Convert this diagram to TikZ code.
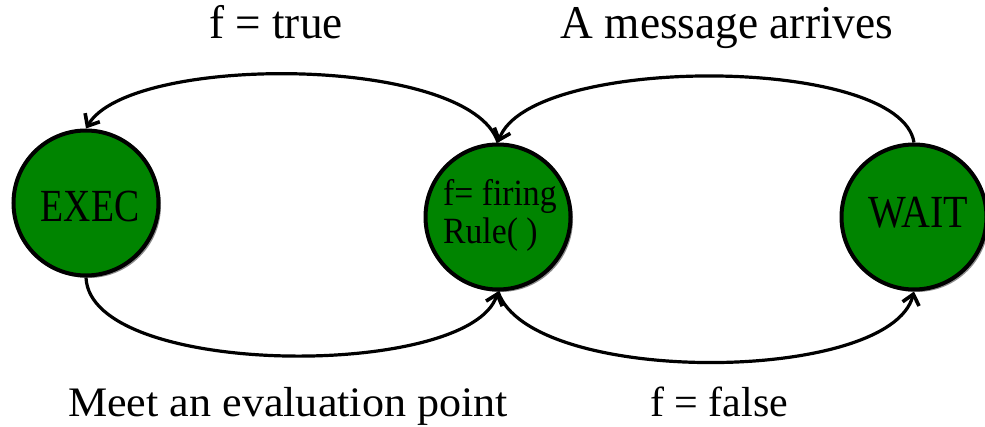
\documentclass[tikz,border=0pt]{standalone}
\usepackage{fontspec}
\setmainfont{Liberation Serif}
\usetikzlibrary{arrows.meta,shadows}
\definecolor{stategreen}{RGB}{0,132,0}
\tikzset{
  state/.style={circle,draw=black,line width=4pt,fill=stategreen,minimum size=145pt,inner sep=0pt,
    drop shadow={shadow xshift=2.5pt,shadow yshift=-2.5pt,opacity=0.45,fill=black}},
  conn/.style={line width=3.2pt,-{Straight Barb[length=10pt,width=17pt,line width=3.6pt]}},
  lbl/.style={anchor=base,inner sep=0pt}
}
\begin{document}
\begin{tikzpicture}[x=1pt,y=-1pt]
\useasboundingbox (0,0) rectangle (985,427);
\node[state] (exec) at (86,203) {};
\node[state] (mid) at (498,217) {};
\node[state] (wait) at (914,217) {};
\node[anchor=base,inner sep=0pt,font=\fontsize{46}{50}\selectfont] (exect) at (90,222) {\scalebox{0.82}[1]{EXEC}};
\node[anchor=base,inner sep=0pt,font=\fontsize{46}{50}\selectfont] (waitt) at (918,228) {\scalebox{0.87}[1]{WAIT}};
\node[anchor=base west,inner sep=0pt,font=\fontsize{37}{40}\selectfont] (midt1) at (443,206) {\scalebox{0.91}[1]{f= firing}};
\node[anchor=base west,inner sep=0pt,font=\fontsize{37}{40}\selectfont] (midt2) at (443,244) {\scalebox{0.91}[1]{Rule( )}};
\draw[conn] (mid.north) .. controls +(-28,-88) and +(44,-75) .. (exec.north);
\draw[conn] (wait.north) .. controls +(-14,-88) and +(32,-88) .. (mid.north);
\draw[conn] (exec.south) .. controls +(4,101) and +(-28,88) .. (mid.south);
\draw[conn] (mid.south) .. controls +(32,95) and +(-24,93) .. (wait.south);
\node[lbl,font=\fontsize{47}{50}\selectfont] (l1) at (276,39) {\scalebox{0.96}[1]{f = true}};
\node[lbl,font=\fontsize{47}{50}\selectfont] (l2) at (727,39) {\scalebox{0.965}[1]{A message arrives}};
\node[lbl,font=\fontsize{42}{50}\selectfont] (l3) at (288,417) {\scalebox{1.05}[1]{Meet an evaluation point}};
\node[lbl,font=\fontsize{42}{50}\selectfont] (l4) at (719,416) {\scalebox{1.0}[1]{f = false}};
\end{tikzpicture}
\end{document}
